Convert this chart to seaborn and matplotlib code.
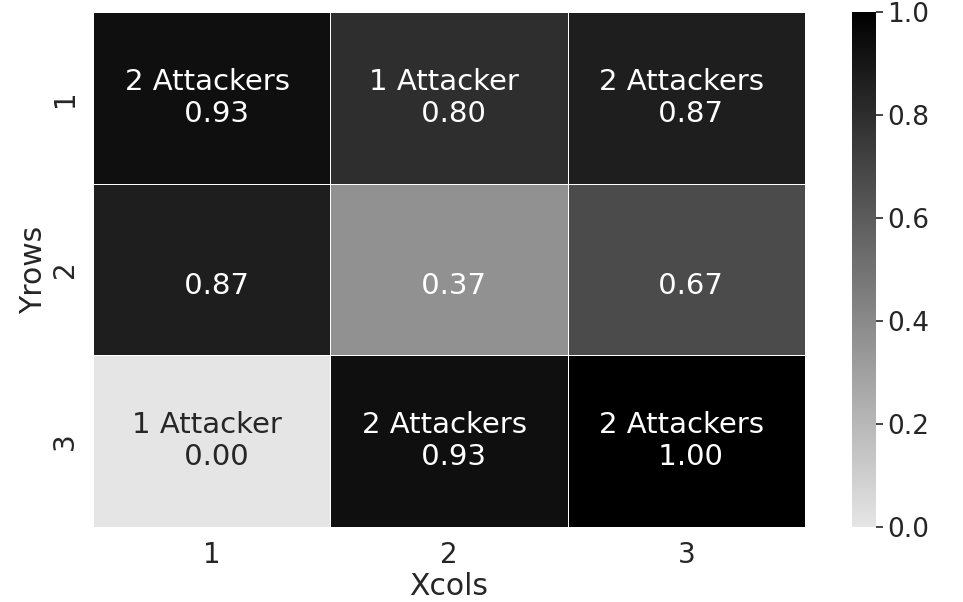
import seaborn as sns
import matplotlib.pyplot as plt
import numpy as np
import pandas as pd
from matplotlib.colors import LinearSegmentedColormap

row_labels = ['1', '2', '3']
col_labels = ['1', '2', '3']
rates = [[0.93, 0.80, 0.87],
         [0.87, 0.37, 0.67],
         [0.00, 0.93, 1.00]]
attackers = [['2 Attackers', '1 Attacker', '2 Attackers'],
             ['', '', ''],
             ['1 Attacker', '2 Attackers', '2 Attackers']]

sns.set_theme(style='white')

data = pd.DataFrame(rates, index=row_labels, columns=col_labels)
labels = np.asarray(['{0} \n {1:.2f}'.format(t, v)
                     for t, v in zip(np.ravel(attackers), np.ravel(rates))]).reshape(3, 3)

cmap = LinearSegmentedColormap.from_list('grey_black', ['#e5e5e5', '#000000'])

fig = plt.figure(figsize=(9.63, 6.02), dpi=100)
ax = fig.add_axes([93/963, 1 - 527/602, (805 - 93)/963, (527 - 12)/602])
cax = fig.add_axes([852/963, 1 - 527/602, 24/963, (527 - 12)/602])

sns.heatmap(data, annot=labels, fmt='', cmap=cmap, vmin=0, vmax=1,
            linewidths=0.6, linecolor='white', ax=ax, cbar_ax=cax,
            annot_kws={'fontsize': 21})

ax.set_xlabel('Xcols', fontsize=21.5, labelpad=2)
ax.set_ylabel('Yrows', fontsize=21.5, labelpad=2)
ax.tick_params(axis='both', labelsize=20, length=0, pad=10)
plt.setp(ax.get_yticklabels(), rotation=90, va='center')
plt.setp(ax.get_xticklabels(), rotation=0)

cax.tick_params(labelsize=19, length=5, width=1.2, color='#262626', right=True, pad=3)
cax.set_yticks([0, 0.2, 0.4, 0.6, 0.8, 1.0])
cax.set_yticklabels(['0.0', '0.2', '0.4', '0.6', '0.8', '1.0'])

fig.savefig('out.png', dpi=100)
